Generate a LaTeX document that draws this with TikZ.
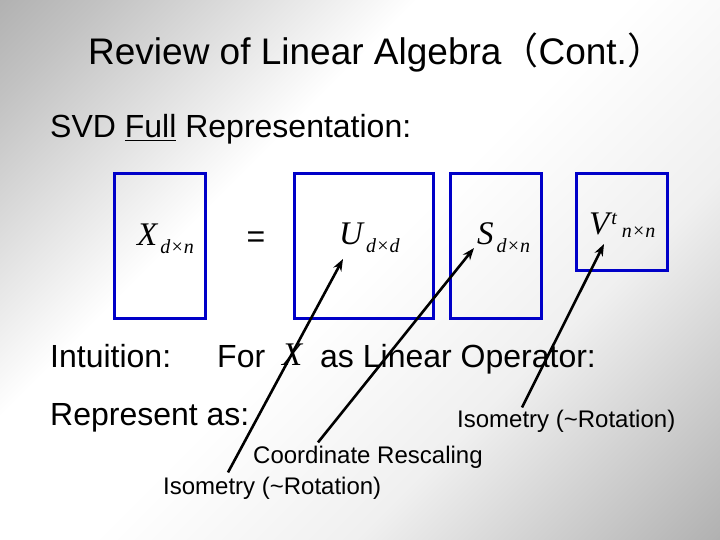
\documentclass[tikz,border=0pt]{standalone}
\usepackage{fix-cm}
\usepackage{fontspec}
\setmainfont{Liberation Sans}
\newfontfamily\cjkfont{Noto Sans CJK JP}
\newfontfamily\symfont{Liberation Serif}
\usetikzlibrary{arrows.meta}
\definecolor{matblue}{RGB}{0,0,200}
\pgfdeclareverticalshading{slidebg}{100bp}{color(0bp)=(black!55); color(15bp)=(black!30);
  color(35bp)=(black!6); color(50bp)=(white); color(62bp)=(white); color(80bp)=(black!24);
  color(100bp)=(black!47)}
\newcommand{\matsym}[2]{{\symfont\itshape #1}\hspace{3pt}\raisebox{-8pt}{\fontsize{20}{24}\selectfont\symfont\itshape #2}}
\tikzset{
  matbox/.style={draw=matblue, line width=3pt},
  bodytext/.style={anchor=base west, inner sep=0pt, font=\fontsize{32}{38}\selectfont},
  notetext/.style={anchor=base west, inner sep=0pt, font=\fontsize{24}{29}\selectfont},
  mathlabel/.style={anchor=base west, inner sep=0pt, font=\fontsize{33}{39}\selectfont},
  pointer/.style={-{Stealth[length=12pt,width=9pt]}, line width=2.6pt}
}
\begin{document}
\begin{tikzpicture}[x=1pt,y=-1pt]
    % slide background
    \shade[shading=slidebg, shading angle=45] (0,0) rectangle (720,540);
    \useasboundingbox (0,0) rectangle (720,540);

    \node[anchor=base west, inner sep=0pt, font=\fontsize{37}{44}\selectfont] (title) at (88,65)
        {Review of Linear Algebra{\cjkfont （}Cont.{\cjkfont ）}};
    \node[bodytext] (svd) at (50,138) {SVD \underline{Full} Representation:};

    % matrices
    \draw[matbox] (114,174) rectangle (205,318);
    \draw[matbox] (294,174) rectangle (433,318);
    \draw[matbox] (450,174) rectangle (541,318);
    \draw[matbox] (576,174) rectangle (667,270);
    \node[mathlabel] (labX) at (137,245) {\matsym{X}{d×n}};
    \node[bodytext, anchor=center] (eq) at (256,240) {=};
    \node[mathlabel] (labU) at (339,244) {\matsym{U}{d×d}};
    \node[mathlabel] (labS) at (477,244) {\matsym{S}{d×n}};
    \node[mathlabel] (labV) at (589,235) {{\symfont\itshape V}\hspace{2pt}\raisebox{10pt}{\fontsize{20}{24}\selectfont\symfont\itshape t}\hspace{5pt}\raisebox{-2pt}{\fontsize{20}{24}\selectfont\symfont\itshape n×n}};

    \node[bodytext] (intu) at (50,367) {Intuition:};
    \node[bodytext] (for) at (217,367) {For};
    \node[mathlabel] (opX) at (282,365) {\symfont\itshape X};
    \node[bodytext] (oper) at (320,367) {as Linear Operator:};
    \node[bodytext] (repr) at (50,425) {Represent as:};

    % what each factor does
    \node[notetext] (isoV) at (457,427) {Isometry (\textasciitilde Rotation)};
    \node[notetext] (rescale) at (253,463) {Coordinate Rescaling};
    \node[notetext] (isoU) at (163,494) {Isometry (\textasciitilde Rotation)};

    \coordinate (tipU) at (343,259);
    \coordinate (tipS) at (474,248);
    \coordinate (tipV) at (604,244);
    \draw[pointer] ([xshift=65pt,yshift=4pt]isoU.north west) -- (tipU);
    \draw[pointer] ([xshift=65pt,yshift=3pt]rescale.north west) -- (tipS);
    \draw[pointer] ([xshift=65pt,yshift=2pt]isoV.north west) -- (tipV);
\end{tikzpicture}
\end{document}
